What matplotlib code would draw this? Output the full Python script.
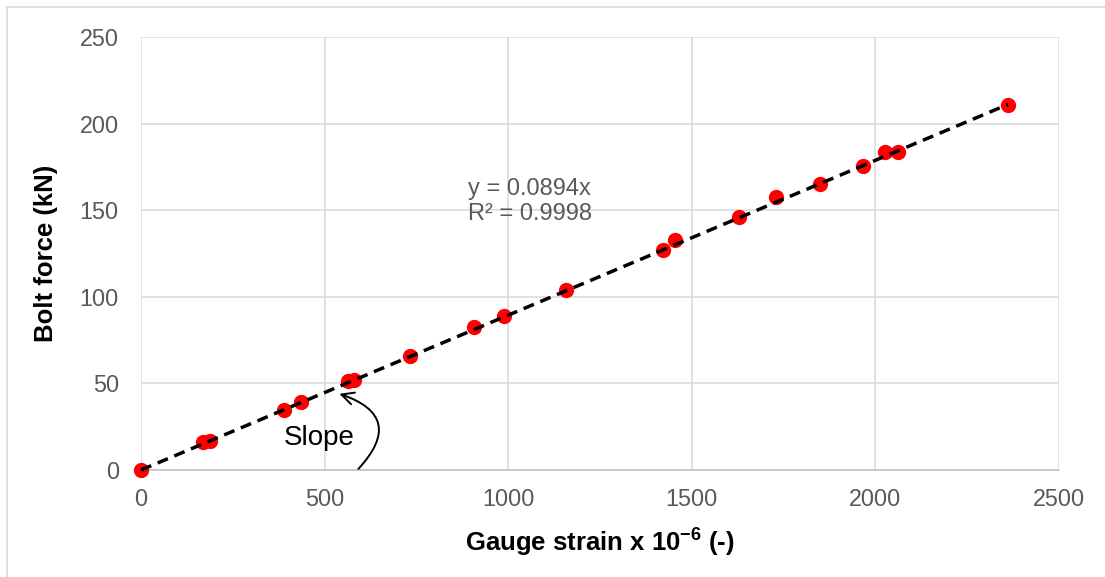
import numpy as np
import matplotlib
matplotlib.use('Agg')
import matplotlib.pyplot as plt
from matplotlib.lines import Line2D

plt.rcParams['font.family'] = ['Liberation Sans', 'DejaVu Sans']
plt.rcParams['mathtext.fontset'] = 'custom'
plt.rcParams['mathtext.rm'] = 'Liberation Sans'
plt.rcParams['mathtext.bf'] = 'Liberation Sans:bold'

# --- Data ---
strain = [0, 170, 187, 389, 435, 565, 580, 733, 907, 989, 1157,
          1421, 1453, 1629, 1729, 1849, 1965, 2026, 2062, 2361]
force = [0, 16.0, 17.0, 34.6, 39.4, 51.5, 52.0, 65.8, 82.3, 88.7, 103.7,
         127.3, 132.6, 146.2, 157.4, 165.0, 175.5, 183.5, 183.7, 210.5]
slope = 0.0894
r2 = 0.9998
x_ticks = [0, 500, 1000, 1500, 2000, 2500]
y_ticks = [0, 50, 100, 150, 200, 250]

GRID = '#D9D9D9'
TICK = '#595959'

fig = plt.figure(figsize=(11.05, 5.77), dpi=100)
ax = fig.add_axes([141 / 1105, 1 - 470 / 577, 918 / 1105, 433 / 577])

ax.plot(strain, force, 'o', color='red', markersize=10, zorder=3,
        clip_on=False)

# linear trendline through origin
x_fit = np.array([0, max(strain)])
ax.plot(x_fit, slope * x_fit, color='black', lw=2.5,
        dashes=(3.2, 2.0), dash_capstyle='butt', zorder=4, clip_on=False)

ax.set_xlim(0, 2500)
ax.set_ylim(0, 250)
ax.set_xticks(x_ticks)
ax.set_yticks(y_ticks)
ax.grid(True, color=GRID, lw=1.1, zorder=0)
ax.set_axisbelow(True)
for side in ['top', 'right', 'left']:
    ax.spines[side].set_visible(False)
ax.spines['bottom'].set_color('#BFBFBF')
ax.spines['bottom'].set_linewidth(1.1)
ax.tick_params(axis='both', length=0, labelsize=16.8, labelcolor=TICK)
ax.tick_params(axis='y', pad=16)
ax.tick_params(axis='x', pad=13)

ax.set_xlabel(r'Gauge strain x 10$^{\mathbf{-6}}$ (-)', fontsize=18.5,
              fontweight='bold')
ax.set_ylabel('Bolt force (kN)', fontsize=18.5, fontweight='bold')
ax.xaxis.set_label_coords(0.5, -0.128)
ax.yaxis.set_label_coords(-0.0904, 0.5)

ax.text(890, 155, f'y = {slope}x\nR² = {r2}', fontsize=17, color=TICK,
        ha='left', va='center', linespacing=1.15)

ax.text(485, 18.5, 'Slope', fontsize=20, color='black', ha='center',
        va='center')
ax.annotate('', xy=(533, 44.5), xytext=(587, -0.5),
            arrowprops=dict(arrowstyle='->', color='black', lw=1.4,
                            connectionstyle='arc3,rad=0.8',
                            mutation_scale=22),
            annotation_clip=False)

# light chart-area frame
fig.add_artist(Line2D([7 / 1105, 1], [1 - 7 / 577, 1 - 7 / 577],
                      transform=fig.transFigure, color=GRID, lw=1.2))
fig.add_artist(Line2D([7 / 1105, 7 / 1105], [0, 1 - 7 / 577],
                      transform=fig.transFigure, color=GRID, lw=1.2))

fig.savefig('out.png', dpi=100, facecolor='white')
